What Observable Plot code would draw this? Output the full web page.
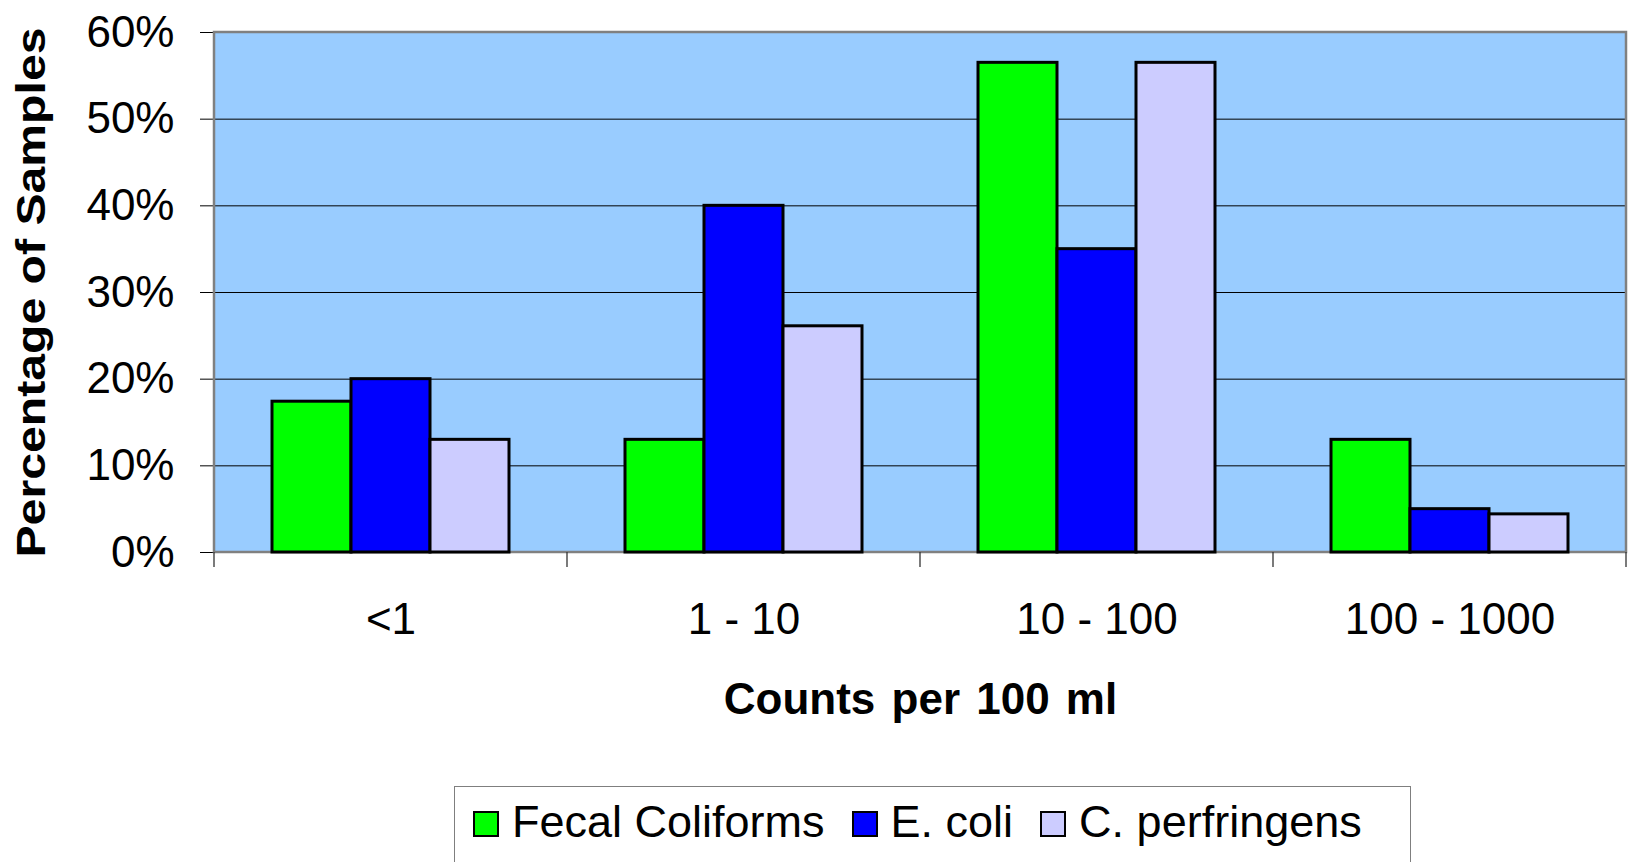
<!DOCTYPE html>
<html><head><meta charset="utf-8">
<script src="https://cdn.jsdelivr.net/npm/d3@7"></script>
<script src="https://cdn.jsdelivr.net/npm/@observablehq/plot@0.6"></script>
<style>
body{margin:0;background:#fff;font-family:"Liberation Sans",Arial,sans-serif;}
#wrap{position:relative;width:1630px;height:862px;overflow:hidden;}
#chart svg{display:block;}
g[aria-label="y-axis label"] text{font-weight:bold;font-size:40px;}
g[aria-label="fx-axis label"] text{font-weight:bold;font-size:44px;word-spacing:4px;}
#legend{position:absolute;left:454px;top:786px;width:957px;height:140px;border:1.5px solid #7f7f7f;box-sizing:border-box;
  display:flex;padding:0 0 0 18px;align-items:flex-start;padding-top:10px;}
#legend .item{display:flex;align-items:center;margin-right:27px;font-size:45px;line-height:50px;color:#000;}
#legend .sw{width:26px;height:26px;border:2px solid #000;box-sizing:border-box;margin-right:13px;position:relative;top:2px;}
</style></head>
<body><div id="wrap"><div id="chart"></div><div id="legend"></div></div>
<script>
const categories = ["<1", "1 - 10", "10 - 100", "100 - 1000"];
const seriesNames = ["Fecal Coliforms", "E. coli", "C. perfringens"];
const fecalColiforms = [17.4, 13.0, 56.5, 13.0];
const eColi = [20.0, 40.0, 35.0, 5.0];
const cPerfringens = [13.0, 26.1, 56.5, 4.4];
const seriesColors = ["#00FF00", "#0000FF", "#CCCCFF"];
const yTicks = [0, 10, 20, 30, 40, 50, 60];
const xTitle = "Counts per 100 ml";
const yTitle = "Percentage of Samples";

(function () {
const seriesValues = [fecalColiforms, eColi, cPerfringens];
const rows = [];
categories.forEach((c, i) => seriesNames.forEach((s, j) => rows.push({category: c, series: s, value: seriesValues[j][i]})));

const plot = Plot.plot({
  width: 1630, height: 760,
  marginLeft: 213, marginRight: 4, marginTop: 32, marginBottom: 208,
  style: {fontFamily: '"Liberation Sans", Arial, sans-serif', background: "transparent", color: "#000", overflow: "visible"},
  fx: {domain: categories, padding: 0},
  x: {domain: seriesNames, paddingInner: 0, paddingOuter: 0.72, axis: null},
  y: {domain: [0, 60]},
  color: {domain: seriesNames, range: seriesColors},
  marks: [
    Plot.gridY(yTicks, {stroke: "#000", strokeOpacity: 1, strokeWidth: 1}),
    Plot.barY(rows, {fx: "category", x: "series", y: "value", fill: "series", stroke: "#000", strokeWidth: 3, insetLeft: 0, insetRight: 0}),
    Plot.axisY(yTicks, {tickFormat: d => d + "%", tickSize: 14, tickPadding: 26, fontSize: 44, stroke: "#000",
      label: yTitle, labelArrow: "none", labelAnchor: "center", labelOffset: 198}),
    Plot.axisFx({anchor: "bottom", tickSize: 0, tickPadding: 50, fontSize: 44, label: xTitle, labelAnchor: "center", labelOffset: 161})
  ]
});
document.getElementById("chart").appendChild(plot);

const svg = d3.select(plot);
const fx = plot.scale("fx"), ys = plot.scale("y");
const x0 = fx.apply(categories[0]);
const x1 = fx.apply(categories[categories.length - 1]) + fx.bandwidth;
const y0 = ys.apply(60), y1 = ys.apply(0);
svg.insert("rect", ":first-child")
  .attr("x", x0).attr("y", y0).attr("width", x1 - x0).attr("height", y1 - y0)
  .attr("fill", "#99CCFF");
svg.append("rect")
  .attr("x", x0).attr("y", y0).attr("width", x1 - x0).attr("height", y1 - y0)
  .attr("fill", "none").attr("stroke", "#808080").attr("stroke-width", 2.5);
const edges = categories.map(c => fx.apply(c)).concat([x1]);
svg.append("g").selectAll("line").data(edges).join("line")
  .attr("x1", d => d).attr("x2", d => d).attr("y1", y1).attr("y2", y1 + 15)
  .attr("stroke", "#333").attr("stroke-width", 1.3);
svg.selectAll('g[aria-label="bar"]').raise();
svg.select('g[aria-label="y-axis label"] text')
  .attr("textLength", 530).attr("lengthAdjust", "spacingAndGlyphs");

const legend = d3.select("#legend");
seriesNames.forEach((s, i) => {
  const it = legend.append("div").attr("class", "item");
  it.append("div").attr("class", "sw").style("background", seriesColors[i]);
  it.append("span").text(s);
});
})();
</script>
</body></html>
